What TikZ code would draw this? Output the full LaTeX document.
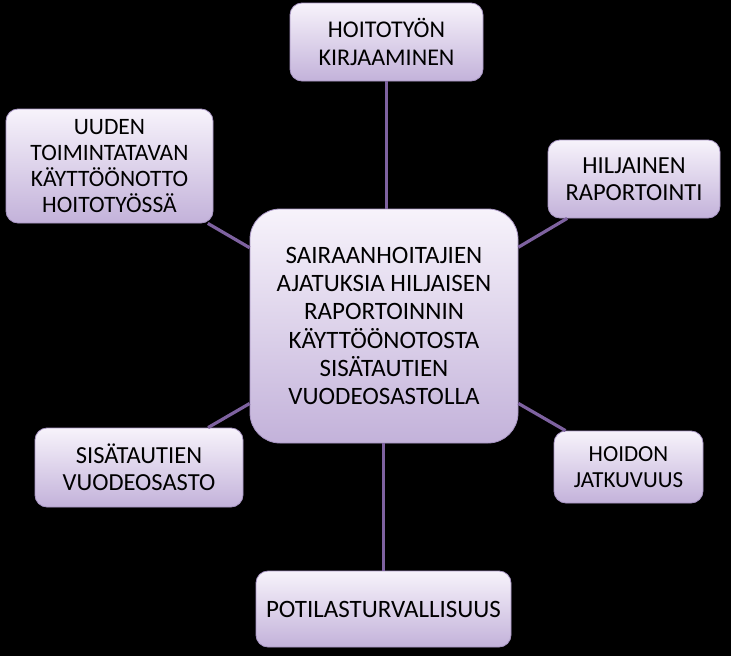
\documentclass[tikz,border=0pt]{standalone}
\usepackage{fontspec}
\setmainfont{Carlito}
\definecolor{linkc}{HTML}{7E62A0}
\definecolor{boxtop}{HTML}{F7F3FB}
\definecolor{boxbot}{HTML}{C3B2DA}
\definecolor{boxedge}{HTML}{A996C4}
\begin{document}
\begin{tikzpicture}[x=1pt,y=-1pt,
  bubble/.style={draw=boxedge, line width=0.8pt, top color=boxtop, bottom color=boxbot,
     rounded corners=12pt, align=center, inner sep=0pt, text=black,
     font=\fontsize{24.5}{27.5}\selectfont},
  hub/.style={bubble, rounded corners=30pt, font=\fontsize{25}{28.3}\selectfont},
  link/.style={draw=linkc, line width=3.2pt}]
\fill[black] (0,0) rectangle (731,656);
\useasboundingbox (0,0) rectangle (731,656);
\node[hub, minimum width=268pt, minimum height=234pt] (c) at (384,326)
  {SAIRAANHOITAJIEN\\AJATUKSIA HILJAISEN\\RAPORTOINNIN\\KÄYTTÖÖNOTOSTA\\SISÄTAUTIEN\\VUODEOSASTOLLA};
\node[bubble, minimum width=193pt, minimum height=78pt, font=\fontsize{24}{28}\selectfont] (t) at (386.5,42) {HOITOTYÖN\\KIRJAAMINEN};
\node[bubble, minimum width=207pt, minimum height=114pt, font=\fontsize{23.5}{26}\selectfont] (lt) at (109.5,166) {UUDEN\\TOIMINTATAVAN\\KÄYTTÖÖNOTTO\\HOITOTYÖSSÄ};
\node[bubble, minimum width=172pt, minimum height=78pt] (rt) at (634,179) {HILJAINEN\\RAPORTOINTI};
\node[bubble, minimum width=208pt, minimum height=79pt] (lb) at (139,467.5) {SISÄTAUTIEN\\VUODEOSASTO};
\node[bubble, minimum width=149pt, minimum height=72pt, font=\fontsize{23}{26.5}\selectfont] (rb) at (628.5,467) {HOIDON\\JATKUVUUS};
\node[bubble, minimum width=255pt, minimum height=76pt, font=\fontsize{25}{28}\selectfont] (b) at (383.5,609) {POTILASTURVALLISUUS};
\draw[link] (c.north -| t.south) -- (t.south);
\draw[link] (c) -- (lt);
\draw[link] (c) -- (rt);
\draw[link] (c) -- (lb);
\draw[link] (c) -- (rb);
\draw[link] (c.south -| b.north) -- (b.north);
\end{tikzpicture}
\end{document}
